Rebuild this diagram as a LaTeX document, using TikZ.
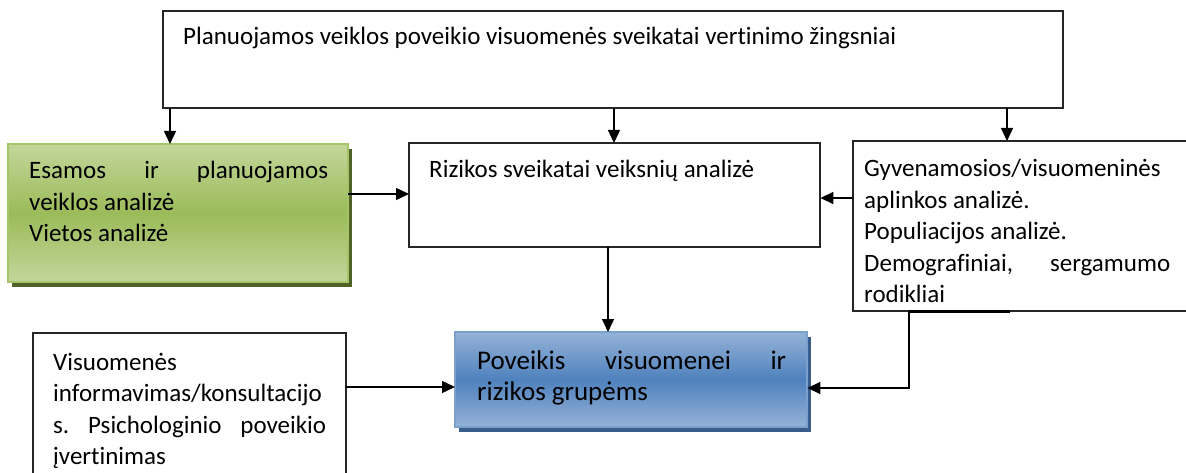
\documentclass[tikz,border=0pt]{standalone}
\usepackage{fontspec}
\setmainfont{Carlito}[Ligatures={NoCommon,NoRequired,NoContextual}]
\usetikzlibrary{arrows.meta}
\definecolor{gLight}{HTML}{C3D69B}
\definecolor{gMid}{HTML}{9BBB59}
\definecolor{gBorder}{HTML}{A6C46A}
\definecolor{gShadow}{HTML}{4F6228}
\definecolor{bLight}{HTML}{95B3D7}
\definecolor{bMid}{HTML}{4F81BD}
\definecolor{bBorder}{HTML}{7BA0CD}
\definecolor{bShadow}{HTML}{385D8A}
\hyphenpenalty=10000
\exhyphenpenalty=10000
\frenchspacing
\tikzset{
  boxrect/.style={draw=black!85, line width=1.2pt, fill=white},
  txt/.style={inner sep=0pt, anchor=base west, font=\fontsize{25}{31.5}\selectfont},
  bigtxt/.style={inner sep=0pt, anchor=base west, font=\fontsize{27}{31}\selectfont},
  arr/.style={line width=1.4pt, -{Triangle[length=13pt,width=12pt]}},
  conn/.style={line width=1.4pt}
}
\begin{document}
\begin{tikzpicture}[x=1pt,y=-1pt]
\useasboundingbox[fill=white] (0,0) rectangle (1186,473);
% top box
\draw[boxrect] (163,11) rectangle (1063,108);
\node[inner sep=0pt, minimum width=900pt, minimum height=97pt, anchor=north west] (top) at (163,11) {};
\node[txt] (toptxt) at (183,45) {Planuojamos veiklos poveikio visuomenės sveikatai vertinimo žingsniai};
% green box
\fill[gShadow] (12,149) rectangle (352,287);
\shade[top color=gLight, bottom color=gLight, middle color=gMid] (8,144) rectangle (348,282);
\draw[gBorder, line width=1.5pt] (8,144) rectangle (348,282);
\node[inner sep=0pt, minimum width=340pt, minimum height=138pt, anchor=north west] (green) at (8,144) {};
\node[txt] (greentxt) at (29,179) {\parbox[t]{299pt}{Esamos ir planuojamos\linebreak veiklos analizė\\ Vietos analizė}};
% middle box
\draw[boxrect] (409,143) rectangle (820,247);
\node[inner sep=0pt, minimum width=411pt, minimum height=104pt, anchor=north west] (mid) at (409,143) {};
\node[txt] (midtxt) at (429,178) {Rizikos sveikatai veiksnių analizė};
% right box
\draw[boxrect] (853,141) rectangle (1196,311);
\node[inner sep=0pt, minimum width=343pt, minimum height=170pt, anchor=north west] (right) at (853,141) {};
\node[txt] (righttxt) at (864,177) {\parbox[t]{306pt}{Gyvenamosios/visuomeninės aplinkos analizė.\\ Populiacijos analizė.\\ Demografiniai, sergamumo\linebreak rodikliai}};
% blue box
\fill[bShadow] (459,337) rectangle (811,432);
\shade[top color=bLight, bottom color=bLight, middle color=bMid] (455,332) rectangle (807,427);
\draw[bBorder, line width=1.5pt] (455,332) rectangle (807,427);
\node[inner sep=0pt, minimum width=352pt, minimum height=95pt, anchor=north west] (blue) at (455,332) {};
\node[bigtxt] (bluetxt) at (477,369) {\parbox[t]{309pt}{Poveikis visuomenei ir\linebreak rizikos grupėms}};
% bottom-left box
\draw[boxrect] (33,333) rectangle (346,485);
\node[inner sep=0pt, minimum width=313pt, minimum height=152pt, anchor=north west] (bl) at (33,333) {};
\node[txt] (bltxt) at (53,370) {\parbox[t]{273pt}{Visuomenės\\ informavimas/konsultacijo\\ s. Psichologinio poveikio\linebreak įvertinimas}};
% connectors
\draw[arr] (top.south -| 170,0) -- (green.north -| 170,0);
\draw[arr] (top.south -| 614,0) -- (mid.north -| 614,0);
\draw[arr] (top.south -| 1007,0) -- (right.north -| 1007,0);
\draw[arr] (green.east |- 0,194) -- (mid.west |- 0,194);
\draw[arr] (right.west |- 0,198) -- (mid.east |- 0,198);
\draw[arr] (mid.south -| 608,0) -- (blue.north -| 608,0);
\draw[arr] (bl.east |- 0,387) -- (blue.west |- 0,387);
\draw[arr] (right.south -| 909,0) -- (909,388) -- (blue.east |- 0,388);
\draw[line width=2.6pt] (right.south -| 908.5,0) -- (right.south -| 1010,0);
\end{tikzpicture}
\end{document}
